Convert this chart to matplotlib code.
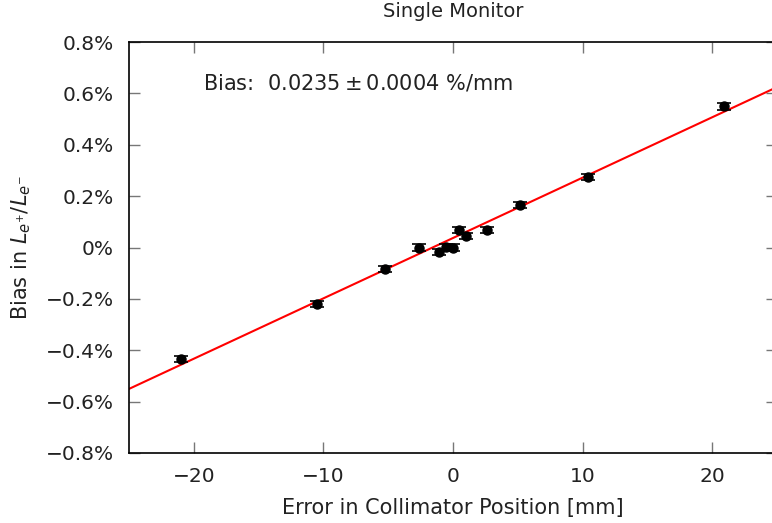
import numpy as np
import matplotlib
matplotlib.use('Agg')
import matplotlib.pyplot as plt
from matplotlib.ticker import FuncFormatter

plt.rcParams['font.family'] = ['DejaVu Sans']
plt.rcParams['mathtext.fontset'] = 'dejavusans'

# collimator position error [mm] and measured bias [%]
offset_mm = [-21.0, -10.5, -5.25, -2.6, -1.1, -0.55, 0.0, 0.45, 1.0, 2.6, 5.2, 10.4, 20.9]
bias_pct = [-0.434, -0.220, -0.084, 0.000, -0.018, 0.003, 0.000, 0.069, 0.044, 0.069, 0.165, 0.276, 0.550]
bias_err = [0.013, 0.012, 0.012, 0.012, 0.012, 0.012, 0.012, 0.012, 0.012, 0.012, 0.012, 0.012, 0.013]

fit_slope = 0.0235
fit_intercept = 0.037

fig = plt.figure(figsize=(7.72, 5.23), dpi=100)
ax = fig.add_axes([129/772, 70/523, 648/772, 411/523])

xfit = np.array([-25, 25])
ax.plot(xfit, fit_intercept + fit_slope*xfit, c='red', linewidth=1.5, zorder=2)
ax.errorbar(offset_mm, bias_pct, yerr=bias_err, fmt='o', c='black', ms=6.5,
            capsize=5, elinewidth=1.2, capthick=1.2, zorder=3)

ax.set_xlim(-25, 25)
ax.set_ylim(-0.8, 0.8)
ax.set_xticks([-20, -10, 0, 10, 20])
ax.set_yticks(np.arange(-0.8, 0.81, 0.2))
ax.xaxis.set_major_formatter(FuncFormatter(lambda v, p: f'{v:.0f}'.replace('-', '\u2212')))
ax.yaxis.set_major_formatter(FuncFormatter(
    lambda v, p: '0%' if abs(v) < 1e-9 else f'{v:.1f}%'.replace('-', '\u2212')))
ax.tick_params(direction='in', length=8, width=1, color='#777777', labelsize=14.5,
               top=True, right=True, labelcolor='#222222')
ax.tick_params(axis='y', pad=11)
ax.tick_params(axis='x', pad=10)
for s in ax.spines.values():
    s.set_linewidth(1.2)

ax.set_xlabel('Error in Collimator Position [mm]', fontsize=15, labelpad=9, color='#222222')
ax.set_ylabel(r'Bias in $L_{e^{+}}/L_{e^{-}}$', fontsize=15, labelpad=9, color='#222222')
ax.set_title('Single Monitor', fontsize=14, pad=18, color='#222222')

ax.text(-19.3, 0.64, r'Bias:  $0.0235 \pm 0.0004$ %/mm', fontsize=15, va='center',
        color='#222222')

fig.savefig('out.png', dpi=100)
